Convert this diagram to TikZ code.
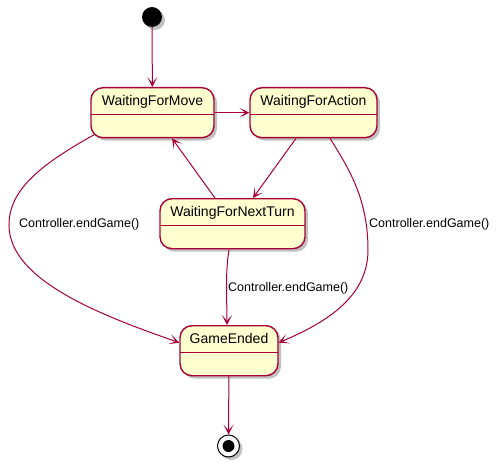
\documentclass[tikz,border=0pt]{standalone}
\usepackage{fontspec}
\setmainfont{Liberation Sans}
\usetikzlibrary{arrows.meta,shadows}
\definecolor{umlborder}{HTML}{A80036}
\definecolor{umlfill}{HTML}{FEFECE}
\tikzset{
  umlshadow/.style={drop shadow={shadow xshift=3pt,shadow yshift=-3pt,opacity=0.35,fill=black!70}},
  statebox/.style={draw=umlborder, fill=umlfill, line width=1.4pt, rounded corners=12pt,
    umlshadow, anchor=north, inner xsep=0pt, inner ysep=8pt,
    text height=10pt, text depth=24pt, font=\fontsize{14}{16}\selectfont,
    path picture={\draw[umlborder, line width=1.4pt]
      ([yshift=-27pt]path picture bounding box.north west) --
      ([yshift=-27pt]path picture bounding box.north east);}},
  startdot/.style={circle, fill=black, minimum size=20pt, inner sep=0pt, umlshadow},
  stopring/.style={circle, draw=black, line width=1pt, fill=white, minimum size=22pt,
    inner sep=0pt, umlshadow,
    path picture={\fill[black] (path picture bounding box.center) circle (6pt);}},
  trans/.style={draw=umlborder, line width=1pt,
    -{Stealth[length=10pt,width=10pt,inset=6pt]}},
  edgelabel/.style={font=\fontsize{12.5}{14}\selectfont, inner sep=0pt, anchor=west}
}
\begin{document}
\begin{tikzpicture}[x=1pt,y=-1pt]
  \useasboundingbox (0,0) rectangle (498,468);
  % states
  \node[startdot] (start) at (152,17) {};
  \node[statebox, minimum width=123pt] (move) at (152.5,87) {WaitingForMove};
  \node[statebox, minimum width=127pt] (action) at (313.5,87) {WaitingForAction};
  \node[statebox, minimum width=145pt] (nextturn) at (232.5,198) {WaitingForNextTurn};
  \node[statebox, minimum width=98pt] (ended) at (229,325) {GameEnded};
  \node[stopring] (stop) at (228.5,446) {};
  % transitions
  \draw[trans] (start) -- (move);
  \draw[trans] (move) -- (action);
  \draw[trans] ([xshift=-17.5pt]action.south) -- ([xshift=20.5pt]nextturn.north);
  \draw[trans] ([xshift=-17.5pt]nextturn.north) -- ([xshift=19.5pt]move.south);
  \draw[trans] ([shift={(3.5pt,3.5pt)}]move.south west)
    .. controls (40,165) and (9,190) .. (9,225)
    .. controls (9,280) and (100,315) .. ([yshift=8pt]ended.west);
  \draw[trans] ([xshift=16.5pt]action.south)
    .. controls (350,170) and (368,200) .. (368,250)
    .. controls (368,300) and (320,325) .. ([yshift=8pt]ended.east);
  \draw[trans] ([xshift=-3.5pt]nextturn.south)
    .. controls (225,275) and (227,300) .. ([xshift=-2pt]ended.north);
  \draw[trans] (ended) -- (stop);
  % labels
  \node[edgelabel] (lblmove) at (19,224) {Controller.endGame()};
  \node[edgelabel] (lblaction) at (369,224) {Controller.endGame()};
  \node[edgelabel] (lblturn) at (228,288) {Controller.endGame()};
\end{tikzpicture}
\end{document}
